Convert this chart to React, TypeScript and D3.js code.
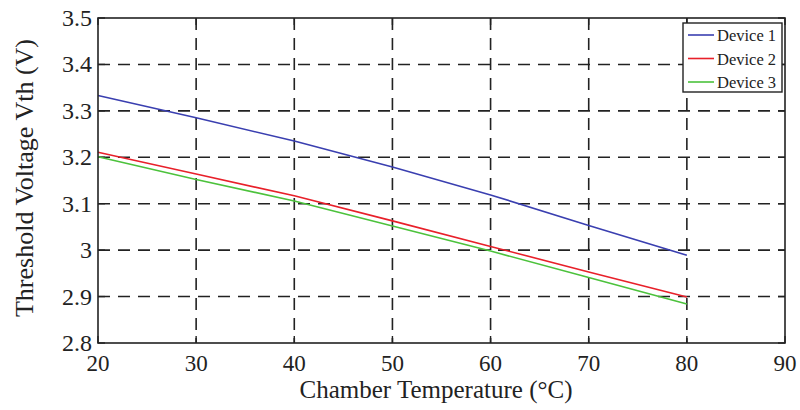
import React from "react";
import * as d3 from "d3";

const temps = [20, 30, 40, 50, 60, 70, 80];
const device1 = [3.333, 3.285, 3.235, 3.179, 3.119, 3.053, 2.989];
const device2 = [3.211, 3.164, 3.117, 3.063, 3.008, 2.953, 2.899];
const device3 = [3.201, 3.152, 3.106, 3.052, 2.998, 2.941, 2.884];
const seriesNames = ["Device 1", "Device 2", "Device 3"];
const seriesColors = ["#3a3fb0", "#e8202a", "#4cc23c"];
const xTicks = [20, 30, 40, 50, 60, 70, 80, 90];
const yTicks = [2.8, 2.9, 3.0, 3.1, 3.2, 3.3, 3.4, 3.5];

const W = 800, H = 410;
const L = 98, R = 785, T = 18, B = 343;
const font = "'Liberation Serif', 'Times New Roman', serif";

export default function App() {
  const x = d3.scaleLinear().domain([20, 90]).range([L, R]);
  const y = d3.scaleLinear().domain([2.8, 3.5]).range([B, T]);
  const series = [device1, device2, device3];
  const line = d3.line<number>().x((_, i) => x(temps[i])).y((d) => y(d));
  const fmt = (v: number) => (Math.abs(v - 3) < 1e-9 ? "3" : d3.format(".1f")(v));
  const tl = 7;
  return (
    <svg width={W} height={H} style={{ position: "absolute", left: 0, top: 0, background: "#fff" }}>
      <rect x={0} y={0} width={W} height={H} fill="#fff" />
      {xTicks.slice(1, -1).map((t) => (
        <line key={"gx" + t} x1={x(t)} x2={x(t)} y1={T} y2={B} stroke="#222" strokeWidth={1.6} strokeDasharray="12,8" />
      ))}
      {yTicks.slice(1, -1).map((t) => (
        <line key={"gy" + t} x1={L} x2={R} y1={y(t)} y2={y(t)} stroke="#222" strokeWidth={1.6} strokeDasharray="12,8" />
      ))}
      {xTicks.map((t) => (
        <g key={"tx" + t}>
          <line x1={x(t)} x2={x(t)} y1={B} y2={B - tl} stroke="#222" strokeWidth={1.4} />
          <line x1={x(t)} x2={x(t)} y1={T} y2={T + tl} stroke="#222" strokeWidth={1.4} />
          <text x={x(t)} y={B + 28} textAnchor="middle" fontFamily={font} fontSize={23} fill="#222">{t}</text>
        </g>
      ))}
      {yTicks.map((t) => (
        <g key={"ty" + t}>
          <line x1={L} x2={L + tl} y1={y(t)} y2={y(t)} stroke="#222" strokeWidth={1.4} />
          <line x1={R} x2={R - tl} y1={y(t)} y2={y(t)} stroke="#222" strokeWidth={1.4} />
          <text x={L - 6} y={y(t) + 8} textAnchor="end" fontFamily={font} fontSize={24} fill="#222">{fmt(t)}</text>
        </g>
      ))}
      {series.map((s, i) => (
        <path key={"s" + i} d={line(s) || ""} fill="none" stroke={seriesColors[i]} strokeWidth={1.6} />
      ))}
      <rect x={L} y={T} width={R - L} height={B - T} fill="none" stroke="#222" strokeWidth={1.6} />
      <rect x={683} y={23} width={99} height={69} fill="#fff" stroke="#222" strokeWidth={1.4} />
      {seriesNames.map((n, i) => (
        <g key={"lg" + i}>
          <line x1={688} x2={714} y1={35 + i * 23.5} y2={35 + i * 23.5} stroke={seriesColors[i]} strokeWidth={1.6} />
          <text x={717} y={35 + i * 23.5 + 6} fontFamily={font} fontSize={16.5} fill="#222">{n}</text>
        </g>
      ))}
      <text x={436} y={398} textAnchor="middle" fontFamily={font} fontSize={25} fill="#222">Chamber Temperature (°C)</text>
      <text transform={`translate(33,178) rotate(-90)`} textAnchor="middle" fontFamily={font} fontSize={26} fill="#222">Threshold Voltage Vth (V)</text>
    </svg>
  );
}
